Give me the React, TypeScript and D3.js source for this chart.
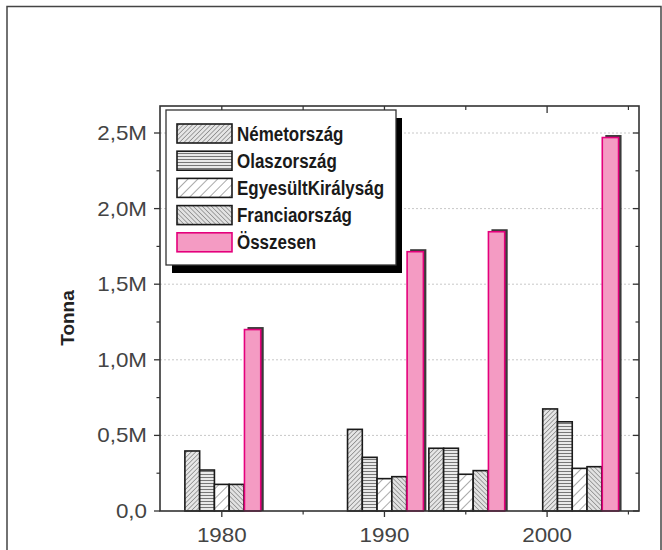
import React from 'react';
import * as d3 from 'd3';

const years = [1980, 1990, 1995, 2002];
const seriesNames = ['Németország', 'Olaszország', 'EgyesültKirályság', 'Franciaország', 'Összesen'];
const nemet = [0.397, 0.54, 0.415, 0.675];
const olasz = [0.271, 0.355, 0.415, 0.59];
const egyes = [0.176, 0.214, 0.243, 0.282];
const francia = [0.176, 0.227, 0.267, 0.293];
const osszesen = [1.2, 1.715, 1.847, 2.47];
const yTickValues = [0, 0.5, 1, 1.5, 2, 2.5];
const yTickLabels = ['0,0', '0,5M', '1,0M', '1,5M', '2,0M', '2,5M'];
const yMinorTicks = [0.25, 0.75, 1.25, 1.75, 2.25];
const xTickValues = [1980, 1990, 2000];
const xTickLabels = ['1980', '1990', '2000'];
const xMinorTicks = [1985, 1995, 2005];
const yAxisTitle = 'Tonna';

const seriesValues = [nemet, olasz, egyes, francia, osszesen];
const seriesFills = ['url(#pNemet)', 'url(#pOlasz)', 'url(#pEgyes)', 'url(#pFrancia)', '#f49bc3'];
const seriesStrokes = ['#1a1a1a', '#1a1a1a', '#1a1a1a', '#1a1a1a', '#e4007c'];

const L = 160, R = 639, T = 106, B = 511;

export default function App() {
  const x = d3.scaleLinear().domain([1976.2, 2005.65]).range([L, R]);
  const y = d3.scaleLinear().domain([0, 2.5]).range([B, 133]);
  const band = d3.scaleBand<string>().domain(seriesNames).range([-2.27, 2.27]).padding(0);

  const axisColor = '#333';
  const tickFont = "'Liberation Sans', Arial, sans-serif";

  const bars: any[] = [];
  years.forEach((yr, gi) => {
    seriesNames.forEach((name, si) => {
      const v = seriesValues[si][gi];
      const x0 = x(yr + (band(name) as number));
      const x1 = x(yr + (band(name) as number) + band.bandwidth());
      const isTotal = si === 4;
      const bx = isTotal ? x0 + 0.5 : x0;
      const bw = isTotal ? x1 - x0 + 1.5 : x1 - x0;
      if (isTotal) {
        bars.push(
          <rect key={`s${gi}`} x={bx + 3} y={y(v) - 2.5} width={bw} height={B - y(v) + 2.5} fill="#3a3a3a" />
        );
      }
      bars.push(
        <rect key={`b${gi}-${si}`} x={bx} y={y(v)} width={bw} height={B - y(v)}
          fill={seriesFills[si]} stroke={seriesStrokes[si]} strokeWidth={1.6} />
      );
    });
  });

  const legX = 166, legY = 110, legW = 230, legH = 155;
  const rowY0 = 133.5, rowStep = 27.2;

  return (
    <svg width={662} height={550} style={{ position: 'absolute', left: 0, top: 0, background: '#fff' }}>
      <defs>
        <pattern id="pNemet" width="3.2" height="3.2" patternUnits="userSpaceOnUse" patternTransform="rotate(45)">
          <rect width="3.2" height="3.2" fill="#e6e6e6" />
          <line x1="0" y1="0" x2="0" y2="3.2" stroke="#666" strokeWidth="1.1" />
        </pattern>
        <pattern id="pOlasz" width="3" height="3" patternUnits="userSpaceOnUse">
          <rect width="3" height="3" fill="#e9e9e9" />
          <line x1="0" y1="0.5" x2="3" y2="0.5" stroke="#777" strokeWidth="1" />
        </pattern>
        <pattern id="pEgyes" width="7" height="7" patternUnits="userSpaceOnUse" patternTransform="rotate(45)">
          <rect width="7" height="7" fill="#fff" />
          <line x1="0" y1="0" x2="0" y2="7" stroke="#555" strokeWidth="1" />
        </pattern>
        <pattern id="pFrancia" width="3.2" height="3.2" patternUnits="userSpaceOnUse" patternTransform="rotate(-45)">
          <rect width="3.2" height="3.2" fill="#e2e2e2" />
          <line x1="0" y1="0" x2="0" y2="3.2" stroke="#6a6a6a" strokeWidth="1.1" />
        </pattern>
      </defs>

      {/* outer frame */}
      <rect x={7} y={6.5} width={654} height={620} fill="none" stroke="#444" strokeWidth={1.5} />

      {/* grid lines */}
      {yTickValues.filter(v => v > 0).map(v => (
        <line key={`g${v}`} x1={L} x2={R} y1={y(v)} y2={y(v)} stroke="#c8c8c8" strokeWidth={1} strokeDasharray="2,2" />
      ))}

      {bars}

      {/* plot frame */}
      <rect x={L} y={T} width={R - L} height={B - T} fill="none" stroke={axisColor} strokeWidth={1.6} />

      {/* y ticks left & right */}
      {yTickValues.map((v, i) => (
        <g key={`yt${v}`}>
          <line x1={L - 6} x2={L} y1={y(v)} y2={y(v)} stroke={axisColor} strokeWidth={1.3} />
          <line x1={R - 6} x2={R} y1={y(v)} y2={y(v)} stroke={axisColor} strokeWidth={1.3} />
          <text transform={`translate(147,${y(v) + 7}) scale(1.12,1)`} textAnchor="end"
            fontFamily={tickFont} fontSize={20} fill="#444">{yTickLabels[i]}</text>
        </g>
      ))}
      {yMinorTicks.map(v => (
        <g key={`ym${v}`}>
          <line x1={L - 3.5} x2={L} y1={y(v)} y2={y(v)} stroke={axisColor} strokeWidth={1.2} />
          <line x1={R - 3.5} x2={R} y1={y(v)} y2={y(v)} stroke={axisColor} strokeWidth={1.2} />
        </g>
      ))}

      {/* x ticks bottom & top */}
      {xTickValues.map((v, i) => (
        <g key={`xt${v}`}>
          <line x1={x(v)} x2={x(v)} y1={B} y2={B + 6} stroke={axisColor} strokeWidth={1.3} />
          <line x1={x(v)} x2={x(v)} y1={T} y2={T + 7} stroke={axisColor} strokeWidth={1.3} />
          <text transform={`translate(${x(v)},542) scale(1.12,1)`} textAnchor="middle"
            fontFamily={tickFont} fontSize={20} fill="#444">{xTickLabels[i]}</text>
        </g>
      ))}
      {xMinorTicks.map(v => (
        <g key={`xm${v}`}>
          <line x1={x(v)} x2={x(v)} y1={B} y2={B + 3.5} stroke={axisColor} strokeWidth={1.2} />
          <line x1={x(v)} x2={x(v)} y1={T} y2={T + 4} stroke={axisColor} strokeWidth={1.2} />
        </g>
      ))}

      {/* y axis title */}
      <text transform="translate(74,318) rotate(-90)" textAnchor="middle" fontFamily={tickFont}
        fontWeight="bold" fontSize={19} fill="#222">{yAxisTitle}</text>

      {/* legend */}
      <rect x={legX + 6} y={legY + 8} width={legW} height={legH} fill="#000" />
      <rect x={legX} y={legY} width={legW} height={legH} fill="#fff" stroke="#333" strokeWidth={1.3} />
      {seriesNames.map((name, i) => {
        const cy = rowY0 + i * rowStep;
        return (
          <g key={`lg${i}`}>
            <rect x={177} y={cy - 9.5} width={55} height={19} fill={seriesFills[i]}
              stroke={seriesStrokes[i]} strokeWidth={1.6} />
            <text transform={`translate(237,${cy + 7}) scale(0.87,1)`} fontFamily={tickFont}
              fontWeight="bold" fontSize={19.5} fill="#1a1a1a">{name}</text>
          </g>
        );
      })}
    </svg>
  );
}
